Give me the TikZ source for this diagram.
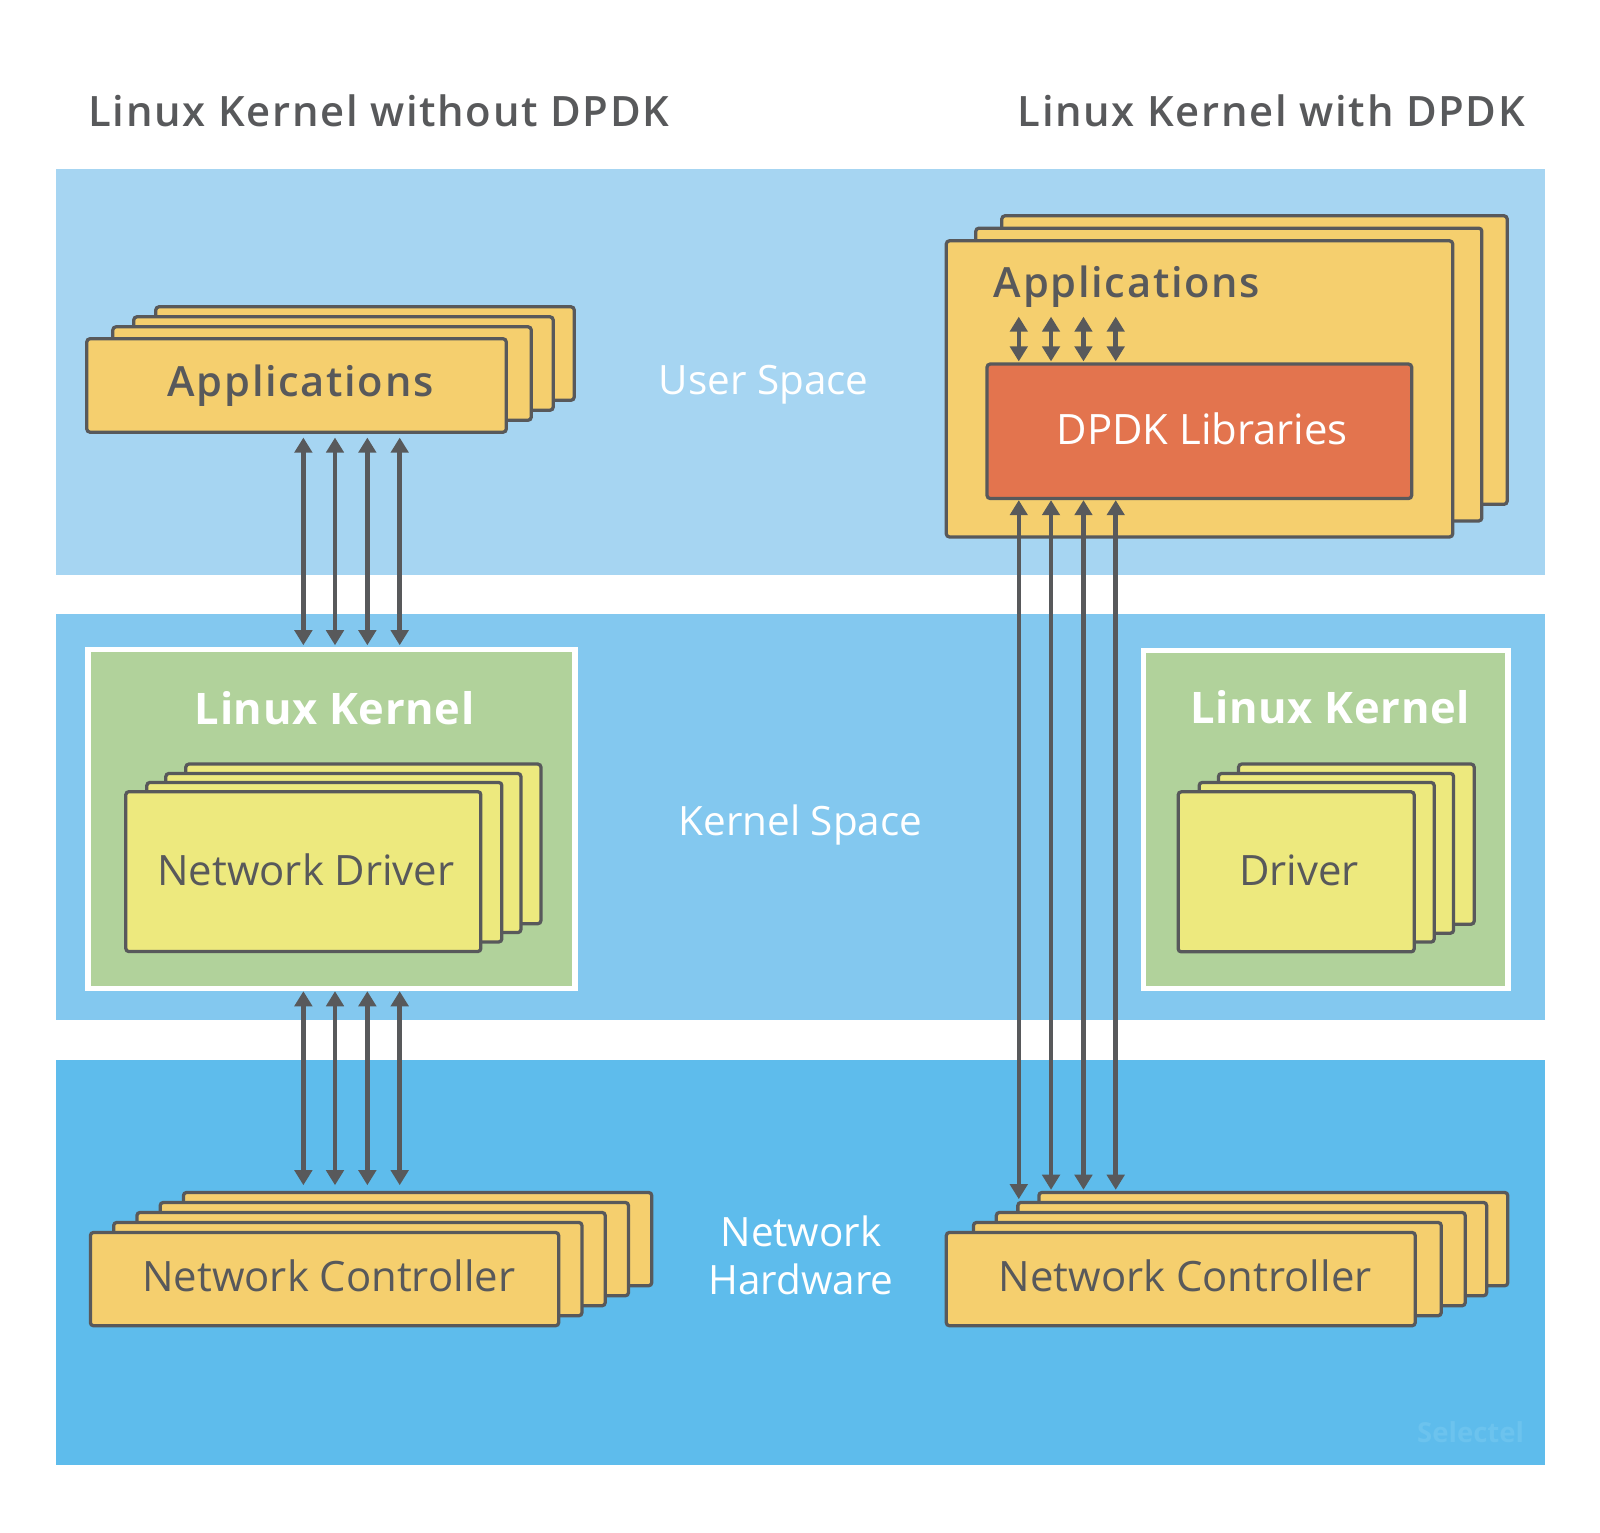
\documentclass[tikz,border=0pt]{standalone}
\usepackage{fontspec}
\setmainfont{Open Sans}
\IfFontExistsTF{Open Sans SemiBold}{%
  \newfontfamily\trackfont[LetterSpace=4]{Open Sans SemiBold}%
}{%
  \IfFontExistsTF{Open Sans Semibold}{%
    \newfontfamily\trackfont[LetterSpace=4]{Open Sans Semibold}%
  }{%
    \newfontfamily\trackfont[LetterSpace=6]{Open Sans}%
  }%
}
\newfontfamily\kernfont[LetterSpace=1.5]{Open Sans Bold}
\usetikzlibrary{arrows.meta,fit}
\definecolor{bandU}{HTML}{A6D5F2}
\definecolor{bandK}{HTML}{83C8EF}
\definecolor{bandH}{HTML}{5EBCEC}
\definecolor{cardor}{HTML}{F5CF6E}
\definecolor{drvyel}{HTML}{EDE97E}
\definecolor{kgreen}{HTML}{B1D29B}
\definecolor{dpdkor}{HTML}{E3744E}
\definecolor{linegray}{HTML}{58595B}
\definecolor{selc}{HTML}{6CC3EE}
% name, style, l, t, r, b, inset
\newcommand\crd[7]{\node[#2, fit={(#3+#7,#4+#7) (#5-#7,#6-#7)}] (#1) {};}
\begin{document}
\begin{tikzpicture}[x=0.5pt,y=-0.5pt,
  band/.style={draw=none, inner sep=0pt, outer sep=0pt},
  card/.style={draw=linegray, line width=1.6pt, rounded corners=1.5pt, inner sep=0pt, fill=cardor},
  drv/.style={card, fill=drvyel},
  dpdk/.style={card, fill=dpdkor},
  kbox/.style={draw=white, line width=2.7pt, fill=kgreen, inner sep=0pt},
  lbl/.style={text=linegray, inner sep=0pt, anchor=base, font=\fontsize{20.5}{24}\selectfont},
  trk/.style={text=linegray, inner sep=0pt, anchor=base, font=\trackfont\fontsize{20.4}{24}\selectfont},
  title/.style={text=linegray, inner sep=0pt, font=\trackfont\fontsize{20.5}{25}\selectfont},
  space/.style={text=white, inner sep=0pt, anchor=base, font=\fontsize{19.8}{23.5}\selectfont},
  kern/.style={text=white, inner sep=0pt, anchor=base, font=\kernfont\fontsize{21.3}{25}\selectfont},
  biarrow/.style={draw=linegray, line width=2.2pt, {Triangle[width=8.5pt,length=7.4pt]}-{Triangle[width=8.5pt,length=7.4pt]}}
]
\useasboundingbox (0,0) rectangle (1568,1501.4);

% bands
\crd{bu}{band, fill=bandU}{55}{166}{1514}{563}{0}
\crd{bk}{band, fill=bandK}{55}{602}{1514}{1000}{0}
\crd{bh}{band, fill=bandH}{55}{1039}{1514}{1436}{0}

% titles
\node[title, anchor=base west] (tl) at (86.4,123.5) {Linux Kernel without DPDK};
\node[title, anchor=base east] (tr) at (1494.9,123.5) {Linux Kernel with DPDK};

% middle labels
\node[space] (us) at (748.5,387) {User Space};
\node[space] (ks) at (784.5,819) {Kernel Space};
\node[space, align=center, anchor=base] (nh) at (785,1269) {Network\\Hardware};

% ---------- left column ----------
\crd{a3}{card}{151.9}{299.9}{563.5}{393}{0.8}
\crd{a2}{card}{130.3}{309.7}{542.9}{402.8}{0.8}
\crd{a1}{card}{109.8}{319.5}{521.4}{412.6}{0.8}
\crd{a0}{card}{84.3}{331.2}{496.9}{424.3}{0.8}
\node[trk] (a0t) at (294.5,389) {Applications};

\crd{kl}{kbox}{85}{635}{565}{970}{1.35}
\node[kern] (klt) at (328,709.8) {Linux Kernel};
\crd{d3}{drv}{181.3}{748}{530.9}{906}{0.8}
\crd{d2}{drv}{161.7}{757.2}{511.3}{914.7}{0.8}
\crd{d1}{drv}{143.1}{766}{492.6}{923.9}{0.8}
\crd{d0}{drv}{122.5}{775}{472}{933.3}{0.8}
\node[lbl] (d0t) at (299.8,867.3) {Network Driver};

\crd{n4}{card}{179}{1167.8}{639.5}{1260.8}{0.8}
\crd{n3}{card}{156.2}{1177.6}{616.7}{1270.6}{0.8}
\crd{n2}{card}{133.4}{1187.4}{593.9}{1280.4}{0.8}
\crd{n1}{card}{110.6}{1197.2}{571.1}{1290.2}{0.8}
\crd{n0}{card}{87.8}{1207}{548.3}{1300}{0.8}
\node[lbl] (n0t) at (322.2,1265.8) {Network Controller};

% ---------- right column ----------
\crd{r2}{card}{981}{210.7}{1477.8}{495}{0.8}
\crd{r1}{card}{955.5}{222.8}{1453}{511.3}{0.8}
\crd{r0}{card}{926.6}{235.2}{1424.4}{527}{0.8}
\node[trk, anchor=base west] (r0t) at (973.7,291.7) {Applications};
\crd{dp}{dpdk}{966.5}{356}{1384.2}{489.3}{0.8}
\node[lbl, text=white] (dpt) at (1178.2,435.4) {DPDK Libraries};

\crd{kr}{kbox}{1119.5}{636}{1479}{970}{1.35}
\node[kern] (krt) at (1303.5,709.5) {Linux Kernel};
\crd{D3}{drv}{1213}{748}{1445.5}{906.5}{0.8}
\crd{D2}{drv}{1193.3}{757.2}{1425.3}{915.3}{0.8}
\crd{D1}{drv}{1174.4}{766}{1406.3}{924}{0.8}
\crd{D0}{drv}{1153.8}{775.2}{1386.7}{933.6}{0.8}
\node[lbl] (D0t) at (1273,867.3) {Driver};

\crd{N4}{card}{1017.3}{1167.8}{1478.4}{1260.8}{0.8}
\crd{N3}{card}{996.7}{1177.6}{1457.7}{1270.6}{0.8}
\crd{N2}{card}{975.6}{1187.4}{1436.7}{1280.4}{0.8}
\crd{N1}{card}{953.2}{1197.2}{1413.2}{1290.2}{0.8}
\crd{N0}{card}{926.6}{1207}{1387.7}{1300}{0.8}
\node[lbl] (N0t) at (1161.5,1265.8) {Network Controller};

% watermark
\node[anchor=base east, inner sep=0pt, text=selc, font=\bfseries\fontsize{13.5}{16}\selectfont] (sel) at (1494,1414) {Selectel};

% ---------- arrows ----------
\coordinate (xl1) at (297.3,0);
\coordinate (xl2) at (328.3,0);
\coordinate (xl3) at (360,0);
\coordinate (xl4) at (391.7,0);
\coordinate (xr1) at (998.4,0);
\coordinate (xr2) at (1030,0);
\coordinate (xr3) at (1061.8,0);
\coordinate (xr4) at (1093.4,0);
\coordinate (stop) at (0,310.3);

\foreach \c in {xl1,xl2,xl3,xl4}{
  \draw[biarrow, shorten <=1.85pt, shorten >=0.65pt] (\c |- a0.south) -- (\c |- kl.north);
  \draw[biarrow, shorten >=2.75pt] (\c |- kl.south) -- (\c |- n4.north);
}
\foreach \c in {xr1,xr2,xr3,xr4}{
  \draw[biarrow, shorten >=0.5pt] (\c |- stop) -- (\c |- dp.north);
}
\draw[biarrow, shorten >=0.8pt] (xr1 |- dp.south) -- (xr1 |- N3.north);
\foreach \c in {xr2,xr3,xr4}{
  \draw[biarrow, shorten >=0.5pt] (\c |- dp.south) -- (\c |- N4.north);
}
\end{tikzpicture}
\end{document}
